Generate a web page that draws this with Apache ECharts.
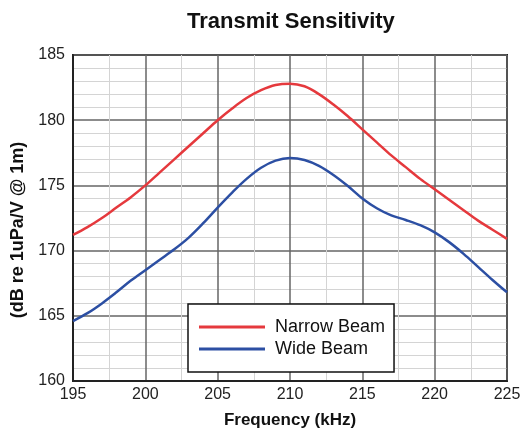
<!DOCTYPE html>
<html>
<head>
<meta charset="utf-8">
<script src="https://cdn.jsdelivr.net/npm/echarts@6/dist/echarts.min.js"></script>
<style>
html,body{margin:0;padding:0;background:#fff;}
#chart{width:528px;height:434px;}
</style>
</head>
<body>
<div id="chart"></div>
<script>
const frequencies = [195,196,197,198,199,200,201,202,203,204,205,206,207,208,209,210,211,212,213,214,215,216,217,218,219,220,221,222,223,224,225];
const narrowBeam = [171.2,171.8,172.5,173.3,174.1,175.0,176.0,177.0,178.0,179.0,180.0,180.9,181.7,182.3,182.7,182.8,182.6,182.0,181.2,180.3,179.3,178.3,177.3,176.4,175.5,174.7,173.9,173.1,172.3,171.6,170.9];
const wideBeam = [164.6,165.2,165.95,166.8,167.7,168.5,169.3,170.1,171.0,172.1,173.3,174.45,175.5,176.35,176.9,177.1,176.95,176.5,175.8,174.95,174.0,173.25,172.7,172.35,171.95,171.4,170.65,169.75,168.75,167.75,166.8];
const seriesNames = ['Narrow Beam','Wide Beam'];

const FONT = "'Liberation Sans', Arial, Helvetica, sans-serif";
const chart = echarts.init(document.getElementById('chart'), null, {renderer:'canvas'});
const pair = (xs, ys) => xs.map((x,i)=>[x, ys[i]]);
chart.setOption({
  animation:false,
  backgroundColor:'#ffffff',
  title:{
    text:'Transmit Sensitivity',
    left:182, top:6,
    textStyle:{fontFamily:FONT, fontWeight:'bold', fontSize:22, color:'#111'}
  },
  grid:{left:73, right:21, top:55, bottom:51, show:true, borderColor:'#222', borderWidth:2, backgroundColor:'transparent'},
  legend:{
    orient:'vertical',
    left:188, top:304,
    padding:[13,9,13,11],
    itemGap:2,
    itemWidth:66, itemHeight:3,
    icon:'rect',
    backgroundColor:'#ffffff',
    borderColor:'#111', borderWidth:1.5,
    textStyle:{fontFamily:FONT, fontSize:18, lineHeight:20, color:'#111', padding:[0,0,0,5]},
    data:seriesNames
  },
  xAxis:{
    type:'value', min:195, max:225, interval:5,
    axisLine:{show:true, lineStyle:{color:'#222', width:2}},
    axisTick:{show:false},
    axisLabel:{fontFamily:FONT, fontSize:16, color:'#222', margin:6},
    splitLine:{show:true, lineStyle:{color:'#666', width:1.5}},
    minorTick:{show:false, splitNumber:2},
    minorSplitLine:{show:true, lineStyle:{color:'#d4d4d4', width:1}},
    name:'Frequency (kHz)', nameLocation:'middle', nameGap:31,
    nameTextStyle:{fontFamily:FONT, fontWeight:'bold', fontSize:17, color:'#111'}
  },
  yAxis:{
    type:'value', min:160, max:185, interval:5,
    axisLine:{show:true, lineStyle:{color:'#222', width:2}},
    axisTick:{show:false},
    axisLabel:{fontFamily:FONT, fontSize:16, color:'#222', margin:8},
    splitLine:{show:true, lineStyle:{color:'#666', width:1.5}},
    minorTick:{show:false, splitNumber:5},
    minorSplitLine:{show:true, lineStyle:{color:'#d4d4d4', width:1}},
    name:'(dB re 1uPa/V @ 1m)', nameLocation:'middle', nameGap:46, nameRotate:90,
    nameTextStyle:{fontFamily:FONT, fontWeight:'bold', fontSize:18, color:'#111', padding:[0,24,0,0]}
  },
  series:[
    {name:seriesNames[0], type:'line', data:pair(frequencies, narrowBeam), smooth:0.35, symbol:'none',
     lineStyle:{color:'#e5393d', width:2.5}, itemStyle:{color:'#e5393d'}},
    {name:seriesNames[1], type:'line', data:pair(frequencies, wideBeam), smooth:0.35, symbol:'none',
     lineStyle:{color:'#2c4fa3', width:2.5}, itemStyle:{color:'#2c4fa3'}}
  ]
});
</script>
</body>
</html>
